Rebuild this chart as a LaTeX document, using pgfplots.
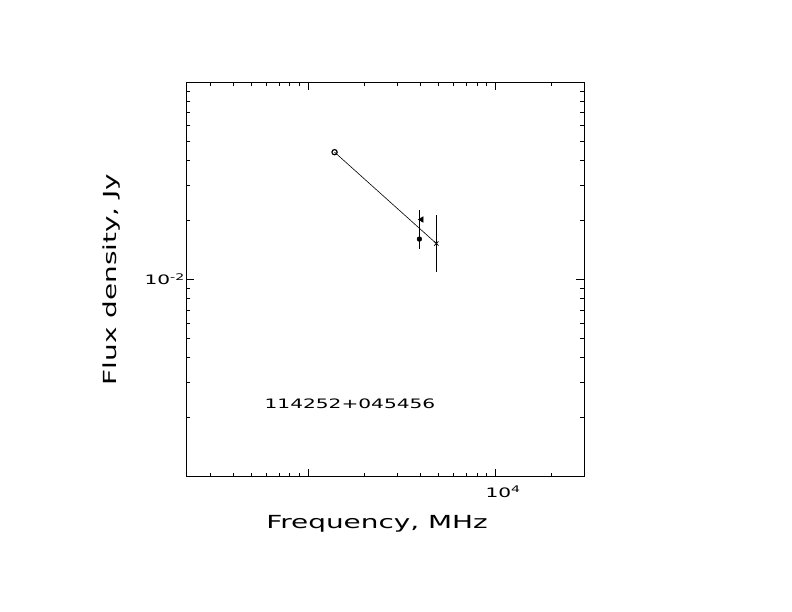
\documentclass[border=0pt]{standalone}
\usepackage{fontspec}
\setmainfont{DejaVu Sans}[FakeStretch=1.55]
\usepackage{pgfplots}
\pgfplotsset{compat=1.18}
\begin{document}
\begin{tikzpicture}
\path[use as bounding box, fill=white] (0,0) rectangle (792bp,612bp);
\begin{axis}[
  at={(186bp,135.3bp)}, anchor=south west,
  scale only axis, width=398bp, height=394.7bp,
  xmode=log, ymode=log,
  xmin=223, xmax=29850, ymin=0.001, ymax=0.1,
  axis line style={line width=0.8bp},
  tick align=inside,
  major tick length=8bp, minor tick length=4bp,
  every tick/.style={black, line width=0.8bp},
  xtick={1000,10000}, xticklabels={{},{10\textsuperscript{4}}},
  minor xtick={300,400,500,600,700,800,900,2000,3000,4000,5000,6000,7000,8000,9000,20000},
  ytick={0.01}, yticklabels={{10\textsuperscript{-2}}},
  minor ytick={0.002,0.003,0.004,0.005,0.006,0.007,0.008,0.009,0.02,0.03,0.04,0.05,0.06,0.07,0.08,0.09},
  tick label style={font=\fontsize{13bp}{15bp}\selectfont},
  xticklabel style={yshift=-6bp, xshift=8bp},
  yticklabel style={inner sep=1bp},
  every axis x label/.style={at={(axis description cs:0.48,-0.12)}, anchor=center},
  every axis y label/.style={at={(axis description cs:-0.186,0.5)}, rotate=90, anchor=center},
  label style={font=\fontsize{18bp}{21bp}\selectfont},
  xlabel={Frequency, MHz},
  ylabel={Flux density, Jy},
  clip=false,
]
\addplot[black, line width=0.6bp] coordinates {(1387,0.0441) (4850,0.0152)};
\addplot[black, only marks, mark=o, mark size=2.6bp, mark options={line width=1.2bp}] coordinates {(1387,0.0441)};
\addplot[black, only marks, mark=*, mark size=2.4bp,
  error bars/.cd, y dir=both, y explicit, error mark=none,
  error bar style={line width=0.9bp}]
  coordinates {(3940,0.016) +=(0,0.0064) -=(0,0.0018)};
\addplot[black, only marks, mark=triangle*, mark size=3.2bp, mark options={rotate=90}] coordinates {(4040,0.0201)};
\addplot[black, only marks, mark=x, mark size=3bp, mark options={line width=0.7bp},
  error bars/.cd, y dir=both, y explicit, error mark=none,
  error bar style={line width=0.9bp}]
  coordinates {(4850,0.0152) +=(0,0.0059) -=(0,0.0043)};
\node[font=\fontsize{13bp}{15bp}\selectfont, anchor=center] at (axis description cs:0.412,0.184) {114252+045456};
\end{axis}
\end{tikzpicture}
\end{document}
